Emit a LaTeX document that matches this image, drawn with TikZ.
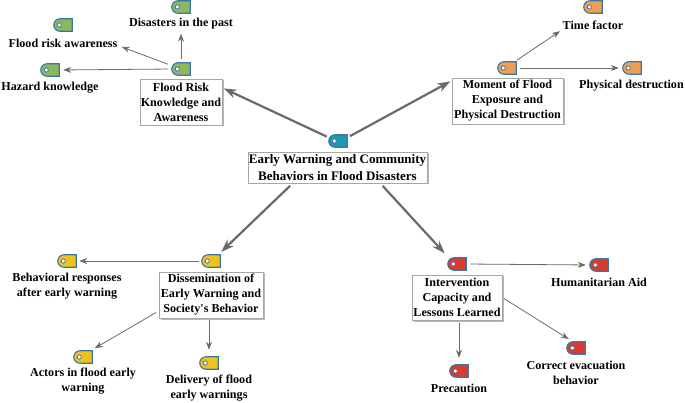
\documentclass[tikz,border=0pt]{standalone}
\usepackage{fontspec}
\setmainfont{Liberation Serif}
\newfontfamily\straightserif{Liberation Serif}
\usetikzlibrary{arrows.meta,shapes.misc,shadows}
\definecolor{tagedge}{HTML}{3F74A8}
\definecolor{tgreen}{HTML}{8DB95E}
\definecolor{torange}{HTML}{EE9F52}
\definecolor{tyellow}{HTML}{EFC31B}
\definecolor{tred}{HTML}{DC3B2C}
\definecolor{tteal}{HTML}{1C9AB0}
\definecolor{linkgray}{HTML}{6A6A6A}
\tikzset{
  tagicon/.style={rounded rectangle, rounded rectangle right arc=none, draw=tagedge, line width=1.1pt,
    fill=#1, minimum width=18.5pt, minimum height=12.5pt, inner sep=0pt, outer sep=0pt,
    path picture={\fill[white,draw=tagedge,line width=.8pt] ([xshift=5.5pt]path picture bounding box.west) circle (2.1pt);}},
  boxnode/.style={draw=gray!70, line width=.6pt, fill=white, align=center, inner sep=0pt,
    font=\fontsize{12.1}{15}\selectfont\bfseries,
    drop shadow={shadow xshift=1.5pt,shadow yshift=-1.5pt,fill=gray!70,opacity=.8}},
  labelnode/.style={align=center, inner sep=0pt, font=\fontsize{12.1}{15}\selectfont\bfseries},
  thinlink/.style={-{Stealth[length=8pt,width=6pt]}, draw=linkgray, line width=.8pt},
  thicklink/.style={-{Stealth[length=13pt,width=9pt]}, draw=linkgray, line width=2.2pt}
}
\begin{document}
\begin{tikzpicture}[x=1pt,y=-1pt]
\useasboundingbox (0,0) rectangle (685,403);
% central
\node[boxnode,minimum width=179pt,minimum height=31pt,font=\fontsize{13}{17}\selectfont\bfseries] (cbox) at (337.5,167.5) {Early Warning and Community\\Behaviors in Flood Disasters};
\node[tagicon=tteal] (ctag) at (338,141) {};
% flood knowledge
\node[boxnode,minimum width=82pt,minimum height=46pt] (fbox) at (181,102) {Flood Risk\\Knowledge and\\Awareness};
\node[tagicon=tgreen] (ftag) at (181,69) {};
\node[tagicon=tgreen] (f1) at (181,7) {};
\node[labelnode] (f1l) at (181,24) {Disasters in the past};
\node[tagicon=tgreen] (f2) at (63,25) {};
\node[labelnode] (f2l) at (63,43) {Flood risk awareness};
\coordinate (f2a) at (118,45.5);
\node[tagicon=tgreen] (f3) at (50,70) {};
\node[labelnode] (f3l) at (50,88) {Hazard knowledge};
% moment
\node[boxnode,minimum width=111pt,minimum height=46pt] (mbox) at (507.5,101) {Moment of Flood\\Exposure and\\Physical Destruction};
\node[tagicon=torange] (mtag) at (507,68) {};
\node[tagicon=torange] (m1) at (593,7) {};
\node[labelnode] (m1l) at (593,25) {Time factor};
\node[tagicon=torange] (m2) at (632,68) {};
\node[labelnode] (m2l) at (631.5,86) {Physical destruction};
% dissemination
\node[boxnode,minimum width=104pt,minimum height=46pt] (dbox) at (211,295) {Dissemination of\\Early Warning and\\{\straightserif Society's} Behavior};
\node[tagicon=tyellow] (dtag) at (211,261) {};
\node[tagicon=tyellow] (d1) at (67,261) {};
\node[labelnode] (d1l) at (67,286) {Behavioral responses\\after early warning};
\node[tagicon=tyellow] (d2) at (83,357) {};
\node[labelnode] (d2l) at (83,381.5) {Actors in flood early\\warning};
\node[tagicon=tyellow] (d3) at (209,363) {};
\node[labelnode] (d3l) at (209,388.5) {Delivery of flood\\early warnings};
% intervention
\node[boxnode,minimum width=90pt,minimum height=45pt] (ibox) at (457,297.5) {Intervention\\Capacity and\\Lessons Learned};
\node[tagicon=tred] (itag) at (457,264) {};
\node[tagicon=tred] (i1) at (599,265) {};
\node[labelnode] (i1l) at (599,282) {Humanitarian Aid};
\node[tagicon=tred] (i2) at (576,348) {};
\node[labelnode] (i2l) at (576,372.5) {Correct evacuation\\behavior};
\node[tagicon=tred] (i3) at (459,371) {};
\node[labelnode] (i3l) at (459,388) {Precaution};
\coordinate (cl) at (293,183);
\coordinate (cr) at (380,183);
\coordinate (dt) at (219,254);
\coordinate (it) at (448,257);
% thick connectors
\draw[thicklink,shorten <=3pt,shorten >=1.5pt] (ctag.160) -- (fbox.19);
\draw[thicklink,shorten <=3pt,shorten >=1.5pt] (ctag.20) -- (mbox.160);
\draw[thicklink,shorten <=4pt,shorten >=3pt] (cl) -- (dt);
\draw[thicklink,shorten <=4pt,shorten >=5pt] (cr) -- (it);
% thin connectors
\draw[thinlink,shorten <=4pt,shorten >=4pt] (ftag.north) -- (f1l.south);
\draw[thinlink,shorten <=5pt,shorten >=4pt] (ftag.160) -- (f2a);
\draw[thinlink,shorten <=4pt,shorten >=4pt] (ftag.west) -- (f3.east);
\draw[thinlink,shorten <=3pt,shorten >=3pt] (mtag.40) -- (m1l.south west);
\draw[thinlink,shorten <=4pt,shorten >=4pt] (mtag.east) -- (m2.west);
\draw[thinlink,shorten <=3pt,shorten >=3pt] (dtag.west) -- (d1.east);
\draw[thinlink,shorten <=3pt,shorten >=5pt] (dbox.197) -- (d2.40);
\draw[thinlink,shorten <=2pt,shorten >=7pt] (dbox.south -| d3.north) -- (d3.north);
\draw[thinlink,shorten <=4pt,shorten >=4pt] (itag.east) -- (i1.west);
\draw[thinlink,shorten <=2pt,shorten >=5pt] (ibox.east) -- (i2.north west);
\draw[thinlink,shorten <=3pt,shorten >=7pt] (ibox.south -| i3.north) -- (i3.north);
\end{tikzpicture}
\end{document}
